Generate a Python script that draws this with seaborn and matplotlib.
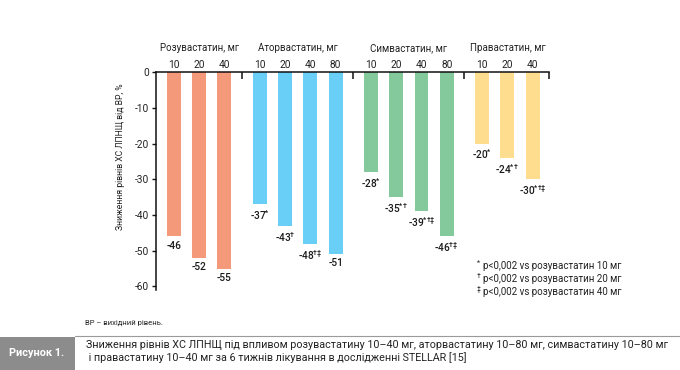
import numpy as np
import pandas as pd
import matplotlib
matplotlib.use("Agg")
import matplotlib.pyplot as plt
import seaborn as sns

# data
groups = ["Розувастатин, мг", "Аторвастатин, мг", "Симвастатин, мг", "Правастатин, мг"]
doses = [["10", "20", "40"],
         ["10", "20", "40", "80"],
         ["10", "20", "40", "80"],
         ["10", "20", "40"]]
rosu = [-46, -52, -55]
atorva = [-37, -43, -48, -51]
simva = [-28, -35, -39, -46]
prava = [-20, -24, -30]
marks = ["", "", "",
         "*", r"\dag", r"\dag\ddag", "",
         "*", r"*\dag", r"*\dag\ddag", r"\dag\ddag",
         "*", r"*\dag", r"*\dag\ddag"]
palette = ["#F5997B", "#6ACFF6", "#84C99C", "#FEDD8F"]
note_marks = ["*", "†", "‡"]
note_texts = ["p<0,002 vs розувастатин 10 мг",
              "p<0,002 vs розувастатин 20 мг",
              "p<0,002 vs розувастатин 40 мг"]

sns.set_style("white")
plt.rcParams["font.family"] = ["Roboto", "DejaVu Sans"]
plt.rcParams["mathtext.default"] = "regular"
plt.rcParams["axes.unicode_minus"] = False

# build x positions with a gap between drug groups
gap = 1.4
pos, grp, seps = [], [], []
x = 0.0
for g, vals in zip(groups, [rosu, atorva, simva, prava]):
    for v in vals:
        pos.append(x)
        grp.append(g)
        x += 1
    seps.append(x - 1 + gap / 2)
    x += gap - 1
values = rosu + atorva + simva + prava
df = pd.DataFrame({"x": pos, "y": values, "group": grp})

fig = plt.figure(figsize=(6.8, 3.7), dpi=100)
ax = fig.add_axes([0.2294, 0.2162, 0.578, 0.589])

sns.barplot(data=df, x="x", y="y", hue="group", palette=palette, native_scale=True,
            dodge=False, width=0.55, saturation=1, legend=False, ax=ax, linewidth=0)

ax.set_xlim(-0.71, 14.85)
ax.set_ylim(-61, 0)
ax.set_yticks(np.arange(-60, 1, 10))
ax.set_ylabel("Зниження рівнів ХС ЛПНЩ від ВР, %", fontsize=6.2, color="#222222")
ax.yaxis.set_label_coords(-0.08, 0.61)
ax.set_xlabel("")

for s in ["right", "bottom"]:
    ax.spines[s].set_visible(False)
for s in ["left", "top"]:
    ax.spines[s].set_color("#111111")
    ax.spines[s].set_linewidth(1.1)

ax.xaxis.tick_top()
seps[-1] = 14.85
ax.set_xticks(seps)
ax.set_xticklabels([])
ax.set_xticks(pos, minor=True)
ax.set_xticklabels(sum(doses, []), minor=True)
ax.tick_params(axis="x", which="major", direction="in", length=5, width=1.1, color="#111111")
ax.tick_params(axis="x", which="minor", length=0, pad=1.5, labelsize=7.3, labelcolor="#222222")
ax.tick_params(axis="y", direction="out", length=3, width=1.0, color="#111111",
               labelsize=7.3, labelcolor="#222222", pad=2, left=True)

# value labels under bar ends
for xi, v, m in zip(pos, values, marks):
    txt = f"{v}" if m == "" else f"{v}$^{{{m}}}$"
    ax.annotate(txt, (xi, v), xytext=(0, -3), textcoords="offset points",
                ha="center", va="top", fontsize=7.3, fontweight="medium", color="#1a1a1a")

# group titles
tr = ax.get_xaxis_transform()
idx = 0
for g, d in zip(groups, doses):
    mid = (pos[idx] + pos[idx + len(d) - 1]) / 2
    ax.text(mid, 1.11, g, transform=tr, ha="center", va="center", fontsize=7, color="#222222")
    idx += len(d)

# significance notes
for i, (m, n) in enumerate(zip(note_marks, note_texts)):
    yy = 1 - (266 + 13 * i) / 370
    fig.text(477 / 680, yy + 0.006, m, ha="left", va="center", fontsize=5, color="#222222")
    fig.text(483 / 680, yy, n, ha="left", va="center", fontsize=7, color="#222222")

fig.text(85 / 680, 1 - 323 / 370, "ВР – вихідний рівень.", ha="left", va="center", fontsize=5.5, color="#222222")

# caption strip
fig.patches.append(plt.Rectangle((0, 0), 75 / 680, 33 / 370, transform=fig.transFigure,
                                 facecolor="#8C8C8C", edgecolor="none"))
fig.add_artist(plt.Line2D([75 / 680, 1], [1 - 336 / 370, 1 - 336 / 370], transform=fig.transFigure,
                          color="#9a9a9a", linewidth=0.8))
fig.text(37 / 680, 1 - 353 / 370, "Рисунок 1.", ha="center", va="center", fontsize=7.8,
         fontweight="bold", color="white")
fig.text(86 / 680, 1 - 345 / 370,
         "Зниження рівнів ХС ЛПНЩ під впливом розувастатину 10–40 мг, аторвастатину 10–80 мг, симвастатину 10–80 мг",
         ha="left", va="center", fontsize=7.75, color="#222222")
fig.text(86 / 680, 1 - 358 / 370,
         " і правастатину 10–40 мг за 6 тижнів лікування в дослідженні STELLAR [15]",
         ha="left", va="center", fontsize=7.75, color="#222222")

fig.savefig("out.png", dpi=100)
